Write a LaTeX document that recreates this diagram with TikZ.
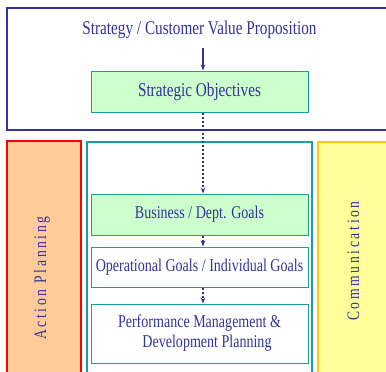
\documentclass[tikz,border=0pt]{standalone}
\usepackage{fontspec}
\setmainfont{Liberation Serif}[FakeStretch=0.78]
\newfontfamily\spacedfont{Liberation Serif}[FakeStretch=0.78,LetterSpace=15]
\usetikzlibrary{arrows.meta}
\definecolor{navy}{HTML}{333399}
\definecolor{tealline}{HTML}{1A9E9E}
\definecolor{mint}{HTML}{CCFFCC}
\definecolor{peach}{HTML}{FFCC99}
\definecolor{lemon}{HTML}{FFFF99}
\definecolor{gold}{HTML}{FFCC00}
\begin{document}
\begin{tikzpicture}[x=1pt,y=-1pt,
  bigtext/.style={font=\fontsize{19.5}{21}\selectfont},
  smalltext/.style={font=\fontsize{18}{20}\selectfont},
  label/.style={text=navy,bigtext,inner sep=0pt},
  box/.style={draw=tealline,line width=1pt,minimum width=217pt,inner sep=0pt,
    text=navy,smalltext,align=center},
  goalbox/.style={box,fill=mint},
  column/.style={line width=1.4pt,minimum height=238pt,inner sep=0pt},
  sidetext/.style={text=navy,font=\spacedfont\fontsize{17.5}{19}\selectfont,rotate=90,inner sep=0pt},
  flow/.style={navy,line width=1.3pt,-{Stealth[length=6pt,width=4.5pt]}},
  dottedflow/.style={flow,dash pattern=on 2pt off 2pt}]
\useasboundingbox (0,0) rectangle (386,372);
\clip (0,0) rectangle (386,372);
\fill[white] (0,0) rectangle (386,372);
% vertical line that the arrows run along
\coordinate (spine) at (203,0);

% strategy frame
\node[draw=navy,line width=1.8pt,minimum width=390pt,minimum height=122pt,inner sep=0pt]
  (frame) at (202,69) {};
\node[label] (title) at (199.5,30) {Strategy / Customer Value Proposition};
\node[goalbox,bigtext,minimum height=41pt] (objectives) at (199.5,91.5) {Strategic Objectives};

% three columns
\node[column,draw=red,fill=peach,minimum width=74pt] (action) at (44,260) {};
\node[sidetext] (actiontext) at (42,278) {Action Planning};
\node[column,draw=tealline,fill=white,minimum width=225pt] (goals) at (199.5,261) {};
\node[column,draw=gold,fill=lemon,minimum width=82pt] (comm) at (359,261) {};
\node[sidetext] (commtext) at (353.5,261) {Communication};

% cascade of goals
\node[goalbox,minimum height=41pt] (business) at (199.5,214.5) {Business / Dept. Goals};
\node[box,fill=white,minimum height=40pt] (operational) at (199.5,267) {Operational Goals / Individual Goals};
\node[box,fill=white,minimum height=59pt] (performance) at (199.5,333.5)
  {Performance Management \&\\[0pt]\hspace*{15pt}Development Planning};

% arrows
\draw[flow] (title.south -| spine) ++(0,9) -- (objectives.north -| spine);
\draw[dottedflow] (objectives.south -| spine) -- (business.north -| spine);
\draw[dottedflow] (business.south -| spine) -- (operational.north -| spine);
\draw[dottedflow] (operational.south -| spine) -- (performance.north -| spine);
\end{tikzpicture}
\end{document}
